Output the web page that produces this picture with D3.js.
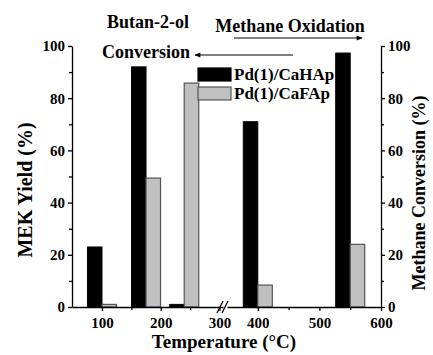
<!DOCTYPE html>
<html>
<head>
<meta charset="utf-8">
<script src="https://cdn.jsdelivr.net/npm/d3@7"></script>
<style>
  body { margin: 0; background: #fff; }
  text { font-family: "Liberation Serif", "Times New Roman", serif; font-weight: bold; fill: #000; }
  .axis path, .axis line { stroke: #000; stroke-width: 1.3; }
</style>
</head>
<body>
<div id="chart"></div>
<script>
// data
var temps = [100, 175, 240, 400, 550];
var hapValues = [23, 92, 1, 71, 97.3];   // Pd(1)/CaHAp
var fapValues = [1, 49.4, 85.8, 8.4, 24]; // Pd(1)/CaFAp
var seriesNames = ['Pd(1)/CaHAp', 'Pd(1)/CaFAp'];
var leftTicks = [100, 200, 300];
var rightTicks = [400, 500, 600];
var leftMinor = [150, 250];
var rightMinor = [450, 550];
var yTicks = [0, 20, 40, 60, 80, 100];
var yMinor = [10, 30, 50, 70, 90];

var width = 433, height = 355;
var barW = 14.5;

var svg = d3.select('#chart').append('svg')
  .attr('width', width)
  .attr('height', height);

// broken x axis: two linear pieces
var xLeft = d3.scaleLinear().domain([49, 306]).range([72, 223]);
var xRight = d3.scaleLinear().domain([350, 600]).range([227, 381]);
function x(v) { return v < 325 ? xLeft(v) : xRight(v); }

var y = d3.scaleLinear().domain([0, 100]).range([307, 46]);

// bars
var bars = temps.map(function(t, i) { return { t: t, hap: hapValues[i], fap: fapValues[i] }; });

svg.selectAll('.bar-hap').data(bars).enter().append('rect')
  .attr('class', 'bar-hap')
  .attr('x', function(d) { return x(d.t) - barW; })
  .attr('y', function(d) { return y(d.hap); })
  .attr('width', barW)
  .attr('height', function(d) { return y(0) - y(d.hap); })
  .attr('fill', '#000')
  .attr('stroke', '#000');

svg.selectAll('.bar-fap').data(bars).enter().append('rect')
  .attr('class', 'bar-fap')
  .attr('x', function(d) { return x(d.t); })
  .attr('y', function(d) { return y(d.fap); })
  .attr('width', barW)
  .attr('height', function(d) { return y(0) - y(d.fap); })
  .attr('fill', '#c0c0c0')
  .attr('stroke', '#555')
  .attr('stroke-width', 1.2);

// x axis pieces
var xAxisL = d3.axisBottom(xLeft).tickValues(leftTicks).tickSize(4).tickFormat(d3.format('d'));
var xAxisR = d3.axisBottom(xRight).tickValues(rightTicks).tickSize(4).tickFormat(d3.format('d'));

[[xAxisL, xLeft, leftMinor], [xAxisR, xRight, rightMinor]].forEach(function(a) {
  var g = svg.append('g').attr('class', 'axis')
    .attr('transform', 'translate(0,' + y(0) + ')')
    .call(a[0].tickSizeOuter(0));
  g.selectAll('text').style('font-size', '15px').attr('dy', '0.9em');
  svg.append('g').attr('class', 'axis')
    .attr('transform', 'translate(0,' + y(0) + ')')
    .call(d3.axisBottom(a[1]).tickValues(a[2]).tickSize(3).tickSizeOuter(0).tickFormat(''))
    .select('.domain').remove();
});

// break marks
[219, 224].forEach(function(bx) {
  svg.append('line')
    .attr('x1', bx - 2).attr('y1', y(0) + 6)
    .attr('x2', bx + 4).attr('y2', y(0) - 6)
    .attr('stroke', '#000').attr('stroke-width', 1.3);
});

// y axes
var gl = svg.append('g').attr('class', 'axis')
  .attr('transform', 'translate(72,0)')
  .call(d3.axisLeft(y).tickValues(yTicks).tickSize(4).tickSizeOuter(0));
gl.selectAll('text').style('font-size', '15px');
svg.append('g').attr('class', 'axis')
  .attr('transform', 'translate(72,0)')
  .call(d3.axisLeft(y).tickValues(yMinor).tickSize(3).tickFormat(''))
  .select('.domain').remove();

var gr = svg.append('g').attr('class', 'axis')
  .attr('transform', 'translate(381,0)')
  .call(d3.axisRight(y).tickValues(yTicks).tickSize(4).tickSizeOuter(0));
gr.selectAll('text').style('font-size', '15px');
svg.append('g').attr('class', 'axis')
  .attr('transform', 'translate(381,0)')
  .call(d3.axisRight(y).tickValues(yMinor).tickSize(3).tickFormat(''))
  .select('.domain').remove();

// axis titles
svg.append('text')
  .attr('transform', 'translate(32,190) rotate(-90)')
  .attr('text-anchor', 'middle')
  .style('font-size', '20px')
  .text('MEK Yield (%)');

svg.append('text')
  .attr('transform', 'translate(425,193) rotate(-90)')
  .attr('text-anchor', 'middle')
  .style('font-size', '18px')
  .text('Methane Conversion (%)');

svg.append('text')
  .attr('x', 224).attr('y', 348)
  .attr('text-anchor', 'middle')
  .style('font-size', '19px')
  .text('Temperature (°C)');

// annotations
svg.append('defs').append('marker')
  .attr('id', 'arr').attr('viewBox', '0 0 10 10')
  .attr('refX', 9).attr('refY', 5)
  .attr('markerWidth', 7).attr('markerHeight', 5)
  .attr('orient', 'auto')
  .append('path').attr('d', 'M0,1L10,5L0,9Z').attr('fill', '#000');

svg.append('text').attr('x', 148).attr('y', 28).attr('text-anchor', 'middle')
  .style('font-size', '18px').text('Butan-2-ol');
svg.append('text').attr('x', 146).attr('y', 58).attr('text-anchor', 'middle')
  .style('font-size', '18px').text('Conversion');
svg.append('text').attr('x', 290).attr('y', 32).attr('text-anchor', 'middle')
  .style('font-size', '18px').text('Methane Oxidation');

svg.append('line')
  .attr('x1', 293).attr('y1', 55).attr('x2', 195).attr('y2', 55)
  .attr('stroke', '#000').attr('stroke-width', 1.2)
  .attr('marker-end', 'url(#arr)');
svg.append('line')
  .attr('x1', 234).attr('y1', 38).attr('x2', 362).attr('y2', 38)
  .attr('stroke', '#000').attr('stroke-width', 1.2)
  .attr('marker-end', 'url(#arr)');

// legend
var legend = svg.append('g').attr('transform', 'translate(198,68)');
seriesNames.forEach(function(name, i) {
  legend.append('rect')
    .attr('x', 0).attr('y', i * 19)
    .attr('width', 33).attr('height', 13)
    .attr('fill', i === 0 ? '#000' : '#c0c0c0')
    .attr('stroke', i === 0 ? '#000' : '#555')
    .attr('stroke-width', 1.2);
  legend.append('text')
    .attr('x', 36).attr('y', i * 19 + 12)
    .style('font-size', '17px')
    .text(name);
});
</script>
</body>
</html>
